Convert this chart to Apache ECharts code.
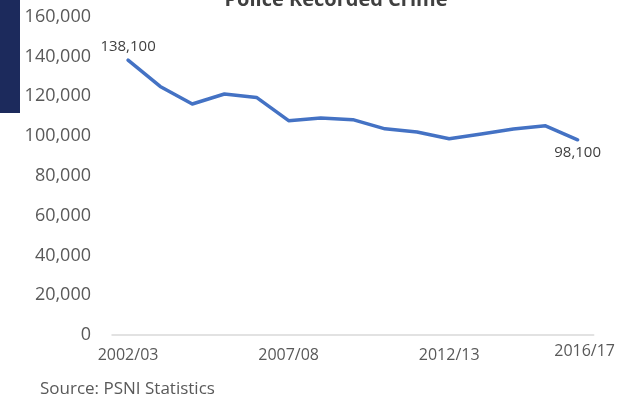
<!DOCTYPE html>
<html>
<head>
<meta charset="utf-8">
<script src="https://cdn.jsdelivr.net/npm/echarts@6/dist/echarts.min.js"></script>
<style>
html,body{margin:0;padding:0;background:#fff;}
#c{width:618px;height:399px;}
</style>
</head>
<body>
<div id="c"></div>
<script>
var categories = ['2002/03','2003/04','2004/05','2005/06','2006/07','2007/08','2008/09','2009/10','2010/11','2011/12','2012/13','2013/14','2014/15','2015/16','2016/17'];
var crimeValues = [138100,124900,116100,121100,119400,107700,109000,108200,103600,102000,98600,101000,103500,105100,98100];
var yTicks = [0,20000,40000,60000,80000,100000,120000,140000,160000];
var shownLabels = [0,5,10];
var lastLabel = 14;
var titleText = 'Police Recorded Crime';
var sourceText = 'Source: PSNI Statistics';

var FONT = "'Open Sans', sans-serif";
var chart = echarts.init(document.getElementById('c'), null, {renderer:'canvas'});

var labelStyle = {show: true, color:'#404040', fontFamily:FONT, fontSize:15,
  formatter:function(p){ return p.value.toLocaleString('en-US'); }};
var seriesData = crimeValues.map(function(v, i){
  if (i === 0) return {value: v, label: Object.assign({}, labelStyle, {position: 'top', offset: [17, 0]})};
  if (i === crimeValues.length - 1) return {value: v, label: Object.assign({}, labelStyle, {position: 'bottom', offset: [12, -1]})};
  return v;
});

chart.setOption({
  animation: false,
  graphic: [
    {type:'rect', left:0, top:0, shape:{x:0,y:0,width:20,height:113}, style:{fill:'#1c2a5c'}},
    {type:'text', x:336, y:10, style:{text:titleText, fill:'#404040', font:'bold 20px ' + FONT, textAlign:'center', textVerticalAlign:'bottom'}},
    {type:'text', x:40, y:381, style:{text:sourceText, fill:'#595959', font:'17px ' + FONT, textAlign:'left', textVerticalAlign:'top'}}
  ],
  grid: {left:112, right:24, top:16.6, bottom:64, containLabel:false},
  xAxis: [
    {
      type:'category', data:categories, boundaryGap:true, position:'bottom',
      axisLine:{show:true, lineStyle:{color:'#d9d9d9', width:1.5}},
      axisTick:{show:false},
      axisLabel:{color:'#595959', fontFamily:FONT, fontSize:16, margin:12,
        interval:function(i){ return shownLabels.indexOf(i) >= 0; }},
      splitLine:{show:false}
    },
    {
      type:'category', data:categories, boundaryGap:true, position:'bottom',
      axisLine:{show:false}, axisTick:{show:false},
      axisLabel:{color:'#595959', fontFamily:FONT, fontSize:16, margin:8,
        interval:function(i){ return i === lastLabel; },
        formatter:function(v){ return '{a|' + v + '}'; },
        rich:{a:{color:'#595959', fontFamily:FONT, fontSize:16, padding:[0,0,0,14]}}},
      splitLine:{show:false}
    }
  ],
  yAxis: {
    type:'value', min:yTicks[0], max:yTicks[yTicks.length-1], interval:yTicks[1]-yTicks[0],
    axisLine:{show:false}, axisTick:{show:false}, splitLine:{show:false},
    axisLabel:{color:'#595959', fontFamily:FONT, fontSize:18, margin:21,
      formatter:function(v){ return v.toLocaleString('en-US'); }}
  },
  series: [{
    type:'line', data:seriesData, xAxisIndex:0, symbol:'circle', symbolSize:1, showSymbol:true, smooth:false,
    lineStyle:{color:'#4472c4', width:3.5, cap:'round', join:'round'},
    itemStyle:{color:'rgba(68,114,196,0)', borderWidth:0},
    labelLayout:{hideOverlap:false},
    label:{show:false}
  }]
});
</script>
</body>
</html>
